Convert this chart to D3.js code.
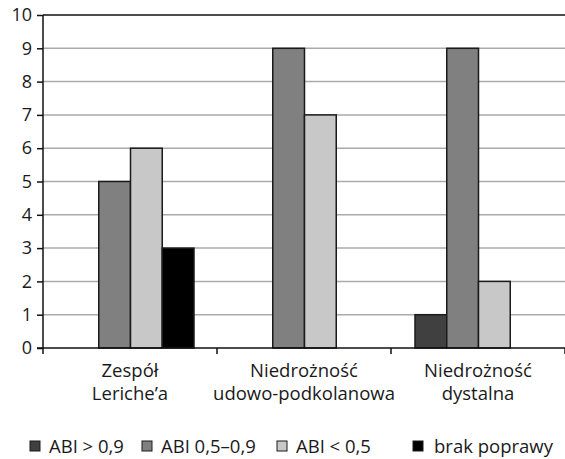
<!DOCTYPE html>
<html>
<head>
<meta charset="utf-8">
<script src="https://cdn.jsdelivr.net/npm/d3@7"></script>
<style>
  html, body { margin: 0; padding: 0; background: #fff; }
  svg { display: block; }
  text { font-family: "Open Sans", "Noto Sans", sans-serif; fill: #1a1a1a; }
</style>
</head>
<body>
<div id="chart"></div>
<script>
// Categories (two-line labels) and series values
const categories = [
  ["Zespół", "Leriche’a"],
  ["Niedrożność", "udowo-podkolanowa"],
  ["Niedrożność", "dystalna"]
];
const seriesNames = ["ABI > 0,9", "ABI 0,5–0,9", "ABI < 0,5", "brak poprawy"];
const abiAbove09 = [0, 0, 1];
const abi05to09 = [5, 9, 9];
const abiBelow05 = [6, 7, 2];
const brakPoprawy = [3, 0, 0];
const yTicks = [0, 1, 2, 3, 4, 5, 6, 7, 8, 9, 10];

const seriesValues = [abiAbove09, abi05to09, abiBelow05, brakPoprawy];
const seriesColors = ["#404040", "#808080", "#c8c8c8", "#000000"];

const W = 565, H = 459;
const plotLeft = 43, plotRight = 565, plotTop = 15, plotBottom = 348;

const svg = d3.select("#chart").append("svg")
  .attr("width", W).attr("height", H);

const catKeys = categories.map((c, i) => i);
const x = d3.scaleBand().domain(catKeys).range([plotLeft, plotRight]).padding(0);
const xInner = d3.scaleBand().domain(d3.range(seriesNames.length))
  .range([24, x.bandwidth() - 23]).padding(0);
const y = d3.scaleLinear().domain([0, 10]).range([plotBottom, plotTop]);

// horizontal grid lines
svg.append("g").selectAll("line")
  .data(yTicks.filter(t => t > 0 && t < 10))
  .join("line")
  .attr("x1", plotLeft).attr("x2", plotRight)
  .attr("y1", d => y(d)).attr("y2", d => y(d))
  .attr("stroke", "#aaaaaa").attr("stroke-width", 1.5);

// top border
svg.append("line")
  .attr("x1", plotLeft).attr("x2", plotRight)
  .attr("y1", y(10)).attr("y2", y(10))
  .attr("stroke", "#111").attr("stroke-width", 1.5);

// bars
const groups = svg.append("g").selectAll("g")
  .data(catKeys).join("g")
  .attr("transform", d => `translate(${x(d)},0)`);

groups.selectAll("rect")
  .data(ci => seriesValues.map((vals, si) => ({ si, v: vals[ci] })).filter(d => d.v > 0))
  .join("rect")
  .attr("x", d => xInner(d.si))
  .attr("width", xInner.bandwidth())
  .attr("y", d => y(d.v))
  .attr("height", d => y(0) - y(d.v))
  .attr("fill", d => seriesColors[d.si])
  .attr("stroke", "#1a1a1a").attr("stroke-width", 1.5);

// y axis
const yAxis = d3.axisLeft(y).tickValues(yTicks).tickSize(6).tickPadding(5)
  .tickFormat(d3.format("d"));
const gy = svg.append("g").attr("transform", `translate(${plotLeft},0)`).call(yAxis);
gy.select(".domain").remove();
gy.selectAll(".tick line").attr("stroke", "#111").attr("stroke-width", 1.5);
gy.selectAll(".tick text").attr("font-size", 18).attr("fill", "#1a1a1a")
  .style("font-family", "'Open Sans', sans-serif");
svg.append("line")
  .attr("x1", plotLeft).attr("x2", plotLeft)
  .attr("y1", plotTop).attr("y2", plotBottom + 6)
  .attr("stroke", "#111").attr("stroke-width", 1.5);

// x axis
svg.append("line")
  .attr("x1", plotLeft - 6).attr("x2", plotRight)
  .attr("y1", plotBottom).attr("y2", plotBottom)
  .attr("stroke", "#111").attr("stroke-width", 1.5);
const xBounds = catKeys.map(k => x(k)).concat([plotRight]).slice(1);
svg.append("g").selectAll("line")
  .data(xBounds).join("line")
  .attr("x1", d => d).attr("x2", d => d)
  .attr("y1", plotBottom).attr("y2", plotBottom + 6)
  .attr("stroke", "#111").attr("stroke-width", 1.5);

// category labels
const labels = svg.append("g").selectAll("text")
  .data(catKeys).join("text")
  .attr("text-anchor", "middle")
  .attr("font-size", 18.5)
  .attr("x", d => x(d) + x.bandwidth() / 2);
labels.selectAll("tspan")
  .data(d => categories[d]).join("tspan")
  .attr("x", function () { return d3.select(this.parentNode).attr("x"); })
  .attr("y", (d, i) => 377 + i * 23)
  .text(d => d);

// legend
const legendX = [30, 142, 277, 413];
const legend = svg.append("g").selectAll("g")
  .data(seriesNames).join("g")
  .attr("transform", (d, i) => `translate(${legendX[i]},441)`);
legend.append("rect")
  .attr("width", 10).attr("height", 10)
  .attr("fill", (d, i) => seriesColors[i])
  .attr("stroke", "#1a1a1a").attr("stroke-width", 1);
legend.append("text")
  .attr("x", (d, i) => i === 3 ? 21 : 19)
  .attr("y", 11.5)
  .attr("font-size", 18.5)
  .text(d => d);
</script>
</body>
</html>
